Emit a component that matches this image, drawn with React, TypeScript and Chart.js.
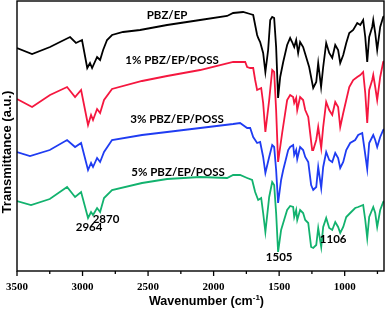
import React, { useEffect, useRef } from "react";
import { Chart, registerables } from "chart.js";

Chart.register(...registerables);

// FTIR spectra: [wavenumber (cm^-1), transmittance (a.u., offset)]
const pbzEp: [number, number][] = [
  [3500, 223], [3385, 217], [3248, 224], [3172, 229], [3095, 234], [3050, 228], [3004, 231],
  [2964, 203], [2943, 208], [2927, 203], [2889, 214], [2866, 211], [2843, 221], [2813, 231],
  [2775, 236], [2691, 239], [2561, 241], [2355, 246], [2103, 251], [1897, 255], [1851, 258],
  [1775, 259], [1721, 257], [1698, 256], [1668, 236], [1660, 233], [1645, 229], [1622, 218],
  [1605, 199], [1584, 221], [1568, 251], [1553, 254], [1538, 253], [1523, 224], [1508, 173],
  [1492, 194], [1469, 209], [1439, 226], [1416, 233], [1401, 229], [1385, 224], [1370, 231],
  [1355, 218], [1340, 229], [1317, 224], [1294, 214], [1271, 204], [1240, 183], [1217, 189],
  [1202, 208], [1180, 184], [1164, 204], [1141, 228], [1118, 218], [1095, 213], [1072, 226],
  [1050, 221], [1034, 208], [1011, 216], [988, 228], [965, 238], [935, 241], [904, 248],
  [881, 246], [859, 251], [843, 234], [828, 209], [813, 234], [790, 244], [782, 251],
  [767, 238], [752, 221], [729, 244], [706, 254], [700, 255],
];

const poss1: [number, number][] = [
  [3500, 172], [3385, 164], [3248, 176], [3118, 184], [3057, 174], [3011, 181], [2958, 146],
  [2935, 156], [2920, 151], [2889, 162], [2866, 158], [2836, 171], [2775, 182], [2546, 190],
  [2355, 195], [2103, 201], [1851, 209], [1798, 209], [1759, 209], [1744, 204], [1721, 203],
  [1698, 203], [1683, 191], [1668, 181], [1637, 183], [1622, 168], [1605, 139], [1576, 171],
  [1553, 201], [1538, 199], [1523, 161], [1508, 109], [1477, 138], [1439, 171], [1416, 176],
  [1393, 174], [1385, 168], [1370, 173], [1362, 161], [1340, 174], [1317, 171], [1301, 161],
  [1278, 154], [1248, 121], [1240, 121], [1217, 131], [1202, 144], [1179, 123], [1164, 144],
  [1141, 169], [1118, 161], [1095, 156], [1072, 169], [1050, 164], [1034, 144], [1011, 158],
  [988, 171], [965, 184], [935, 191], [904, 194], [881, 196], [859, 199], [843, 178],
  [828, 148], [813, 181], [790, 191], [782, 196], [767, 184], [752, 171], [729, 194],
  [706, 209], [700, 210],
];

const poss3: [number, number][] = [
  [3500, 119], [3401, 115], [3250, 121], [3118, 131], [3057, 124], [3011, 128], [2958, 101],
  [2935, 108], [2920, 104], [2889, 113], [2866, 109], [2836, 119], [2775, 131], [2546, 136],
  [2355, 139], [2103, 143], [1851, 147], [1798, 148], [1744, 143], [1721, 143], [1698, 134],
  [1668, 128], [1645, 129], [1622, 114], [1605, 98], [1576, 114], [1553, 126], [1538, 124],
  [1523, 101], [1508, 68], [1485, 91], [1469, 101], [1431, 121], [1416, 124], [1393, 126],
  [1385, 116], [1370, 121], [1362, 112], [1340, 124], [1317, 121], [1301, 114], [1278, 109],
  [1256, 86], [1240, 81], [1217, 84], [1202, 104], [1179, 83], [1164, 104], [1141, 119],
  [1118, 111], [1095, 109], [1072, 118], [1050, 113], [1034, 103], [1011, 109], [988, 121],
  [958, 128], [920, 131], [897, 136], [866, 138], [851, 124], [828, 102], [813, 128],
  [782, 136], [767, 131], [752, 124], [729, 134], [706, 141], [700, 142],
];

const poss5: [number, number][] = [
  [3500, 70], [3393, 66], [3250, 72], [3118, 84], [3057, 74], [3011, 79], [2958, 53],
  [2935, 59], [2920, 56], [2889, 63], [2866, 59], [2836, 73], [2775, 81], [2546, 88],
  [2355, 92], [2103, 94], [1897, 93], [1851, 96], [1798, 96], [1744, 93], [1706, 91],
  [1683, 79], [1660, 71], [1637, 73], [1622, 58], [1605, 39], [1576, 74], [1553, 89],
  [1538, 86], [1523, 58], [1508, 19], [1485, 41], [1469, 48], [1439, 61], [1416, 65],
  [1393, 64], [1385, 54], [1370, 61], [1362, 51], [1340, 61], [1317, 58], [1301, 51],
  [1278, 48], [1256, 24], [1240, 23], [1217, 26], [1202, 43], [1179, 24], [1164, 44],
  [1141, 53], [1118, 43], [1095, 41], [1072, 49], [1050, 44], [1034, 38], [1011, 44],
  [988, 54], [958, 58], [920, 63], [897, 64], [859, 66], [843, 51], [828, 33], [813, 54],
  [782, 64], [767, 58], [752, 44], [729, 61], [706, 69], [700, 70],
];

const seriesNames = ["PBZ/EP", "1% PBZ/EP/POSS", "3% PBZ/EP/POSS", "5% PBZ/EP/POSS"];
const seriesColors = ["#000000", "#f5173f", "#1f3cf2", "#12b26e"];

// x-axis ticks: labelled majors and unlabelled minors
const majorTicks = [3500, 3000, 2500, 2000, 1500, 1000];
const minorTicks = [3250, 2750, 2250, 1750, 1250, 750];

// Text annotations anchored in data coordinates: [text, wavenumber, value]
const annotations: [string, number, number][] = [
  ["PBZ/EP", 2355, 256],
  ["1% PBZ/EP/POSS", 2317, 211],
  ["3% PBZ/EP/POSS", 2279, 152],
  ["5% PBZ/EP/POSS", 2271, 99],
  ["2964", 2950, 44],
  ["2870", 2821, 52],
  ["1505", 1500, 14],
  ["1106", 1088, 32],
];

const xMin = 700;
const xMax = 3500;

const framePlugin = {
  id: "frame",
  afterDraw(chart: any) {
    const { ctx, chartArea } = chart;
    const xs = chart.scales.x;
    const ys = chart.scales.y;
    ctx.save();
    // annotations
    ctx.fillStyle = "#000";
    ctx.font = "bold 11.5px Lato";
    ctx.textAlign = "center";
    ctx.textBaseline = "middle";
    for (const [t, wx, vy] of annotations) {
      ctx.fillText(t, xs.getPixelForValue(wx), ys.getPixelForValue(vy));
    }
    // frame
    ctx.strokeStyle = "#000";
    ctx.lineWidth = 1.4;
    ctx.strokeRect(chartArea.left, chartArea.top, chartArea.right - chartArea.left, chartArea.bottom - chartArea.top);
    // tick marks and labels
    ctx.lineWidth = 1.3;
    const drawTick = (v: number, len: number) => {
      const px = xs.getPixelForValue(v);
      ctx.beginPath();
      ctx.moveTo(px, chartArea.bottom);
      ctx.lineTo(px, chartArea.bottom + len);
      ctx.stroke();
    };
    minorTicks.forEach((v) => drawTick(v, 3));
    majorTicks.forEach((v) => drawTick(v, 5));
    ctx.font = "bold 11px 'Liberation Serif'";
    ctx.textBaseline = "middle";
    for (const v of majorTicks) {
      ctx.fillText(String(v), xs.getPixelForValue(v), chartArea.bottom + 16);
    }
    // x title with superscript
    const main = "Wavenumber (cm";
    const sup = "-1";
    const tail = ")";
    ctx.font = "bold 12.5px 'Liberation Sans'";
    const wMain = ctx.measureText(main).width;
    const wTail = ctx.measureText(tail).width;
    ctx.font = "bold 8px 'Liberation Sans'";
    const wSup = ctx.measureText(sup).width;
    const total = wMain + wSup + wTail;
    let x0 = (chartArea.left + chartArea.right) / 2 + 6 - total / 2;
    const ty = chartArea.bottom + 31;
    ctx.textAlign = "left";
    ctx.font = "bold 12.5px 'Liberation Sans'";
    ctx.fillText(main, x0, ty);
    x0 += wMain;
    ctx.font = "bold 8px 'Liberation Sans'";
    ctx.fillText(sup, x0, ty - 4);
    x0 += wSup;
    ctx.font = "bold 12.5px 'Liberation Sans'";
    ctx.fillText(tail, x0, ty);
    // y title
    ctx.translate(7, 152);
    ctx.rotate(-Math.PI / 2);
    ctx.font = "bold 13px 'Liberation Sans'";
    ctx.textAlign = "center";
    ctx.textBaseline = "middle";
    ctx.fillText("Transmittance (a.u.)", 0, 0);
    ctx.restore();
  },
};

export default function App() {
  const ref = useRef<HTMLCanvasElement | null>(null);
  useEffect(() => {
    document.body.style.margin = "0";
    const all = [pbzEp, poss1, poss3, poss5];
    const chart = new Chart(ref.current as HTMLCanvasElement, {
      type: "line",
      data: {
        datasets: all.map((s, i) => ({
          label: seriesNames[i],
          data: s.map(([x, y]) => ({ x, y })),
          borderColor: seriesColors[i],
          borderWidth: 1.8,
          pointRadius: 0,
          tension: 0,
          fill: false,
        })),
      },
      options: {
        animation: false,
        responsive: false,
        devicePixelRatio: 1,
        layout: { padding: { top: 1, right: 2, left: 17, bottom: 0 } },
        plugins: { legend: { display: false }, tooltip: { enabled: false } },
        scales: {
          x: {
            type: "linear",
            min: xMin,
            max: xMax,
            reverse: true,
            afterFit: (s: any) => {
              s.height = 40;
            },
            grid: { display: false, drawTicks: false, tickLength: 0 },
            border: { display: false },
            ticks: { display: false },
            title: { display: false },
          },
          y: {
            display: false,
            min: 0,
            max: 270,
          },
        },
      },
      plugins: [framePlugin],
    });
    return () => chart.destroy();
  }, []);
  return (
    <div style={{ width: 386, height: 311 }}>
      <canvas ref={ref} width={386} height={311} />
    </div>
  );
}
